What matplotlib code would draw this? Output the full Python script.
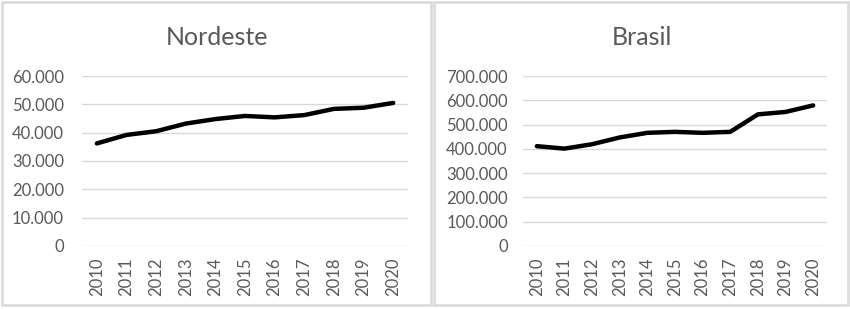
import matplotlib
matplotlib.use("Agg")
import matplotlib.pyplot as plt
from matplotlib.patches import Rectangle
from matplotlib.ticker import FuncFormatter, MultipleLocator

plt.rcParams['font.family'] = ['Lato', 'DejaVu Sans']

# data
years = ['2010', '2011', '2012', '2013', '2014', '2015', '2016', '2017', '2018', '2019', '2020']
nordeste = [36200, 39200, 40500, 43200, 44800, 45900, 45400, 46200, 48400, 48800, 50500]
brasil = [411000, 401000, 419000, 447000, 466000, 470000, 466000, 470000, 542000, 552000, 579000]

grey_txt = '#595959'
grey_line = '#d9d9d9'


def thousands(v, pos):
    return f"{v:,.0f}".replace(",", ".")


fig = plt.figure(figsize=(8.5, 3.09), dpi=100)

# panel borders (chart areas)
for x0, w in [(0.002, 0.505), (0.510, 0.488)]:
    fig.patches.append(Rectangle((x0, 0.012), w, 0.983, transform=fig.transFigure,
                                 fill=False, edgecolor=grey_line, linewidth=1.8))


def panel(rect, values, title, ymax, step, title_x, ypad):
    ax = fig.add_axes(rect)
    x = range(len(years))
    ax.plot(x, values, color='black', linewidth=3.2, solid_capstyle='round')
    ax.set_xlim(-0.5, len(years) - 0.5)
    ax.set_ylim(0, ymax)
    ax.yaxis.set_major_locator(MultipleLocator(step))
    ax.yaxis.set_major_formatter(FuncFormatter(thousands))
    ax.set_xticks(list(x))
    ax.set_xticklabels(years, rotation=90)
    ax.grid(axis='y', color=grey_line, linewidth=1)
    ax.set_axisbelow(True)
    for s in ax.spines.values():
        s.set_visible(False)
    ax.tick_params(length=0, labelsize=12, colors=grey_txt)
    ax.tick_params(axis='x', pad=8)
    ax.tick_params(axis='y', pad=ypad)
    fig.text(title_x, 0.88, title, ha='center', va='center', fontsize=18, color=grey_txt)
    return ax


panel([0.0965, 0.204, 0.3835, 0.550], nordeste, 'Nordeste', 60000, 10000, 0.255, 13)
panel([0.6153, 0.204, 0.3576, 0.550], brasil, 'Brasil', 700000, 100000, 0.755, 11)

fig.savefig('out.png', dpi=100)
